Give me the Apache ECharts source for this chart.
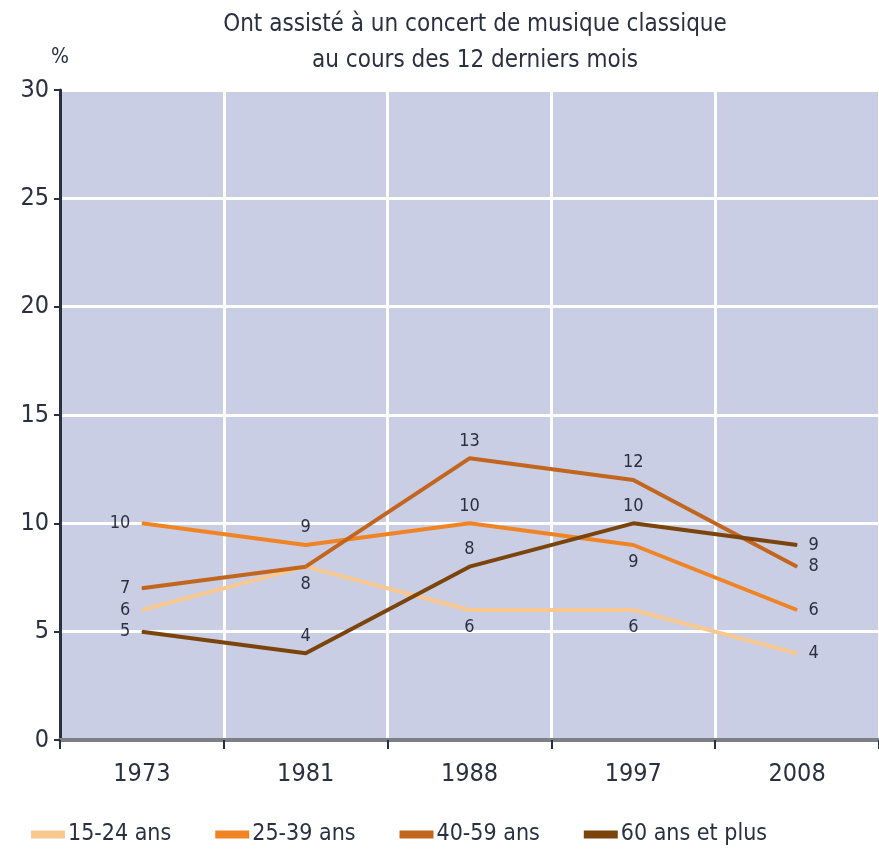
<!DOCTYPE html>
<html>
<head>
<meta charset="utf-8">
<script src="https://cdn.jsdelivr.net/npm/echarts@6/dist/echarts.min.js"></script>
<style>
  html, body { margin: 0; padding: 0; background: #fff; }
  #main { width: 879px; height: 854px; }
</style>
</head>
<body>
<div id="main"></div>
<script>
    // données
    const annees = ['1973', '1981', '1988', '1997', '2008'];
    const ans15_24 = [6, 8, 6, 6, 4];
    const ans25_39 = [10, 9, 10, 9, 6];
    const ans40_59 = [7, 8, 13, 12, 8];
    const ans60plus = [5, 4, 8, 10, 9];
    const yTicks = [0, 5, 10, 15, 20, 25, 30];

    // position des étiquettes pour chaque point (null = pas d'étiquette)
    const pos15_24 = ['left', null, 'bottom', 'bottom', 'right'];
    const pos25_39 = ['left', 'top', 'top', 'bottom', 'right'];
    const pos40_59 = ['left', 'bottom', 'top', 'top', 'right'];
    const pos60plus = ['left', 'top', 'top', 'top', 'right'];

    const police = '"DejaVu Sans Condensed", "DejaVu Sans", sans-serif';

    const makeData = (values, positions) => values.map((v, i) => ({
        value: v,
        label: positions[i]
            ? { show: true, position: positions[i], distance: positions[i] === 'left' || positions[i] === 'right' ? 11 : 8 }
            : { show: false }
    }));

    const makeSerie = (name, values, positions, color) => ({
        name: name,
        type: 'line',
        data: makeData(values, positions),
        symbol: 'circle',
        symbolSize: 1,
        lineStyle: { color: color, width: 4 },
        itemStyle: { color: color },
        label: {
            color: '#2b3040',
            fontFamily: police,
            fontSize: 18
        }
    });

    var myChart = echarts.init(document.getElementById('main'));
    let option = {
        animation: false,
        title: {
            text: 'Ont assisté à un concert de musique classique\nau cours des 12 derniers mois',
            left: 470,
            top: 2,
            textAlign: 'center',
            textStyle: {
                fontFamily: police,
                fontWeight: 'normal',
                fontSize: 24,
                lineHeight: 36,
                color: '#2b3040'
            }
        },
        legend: {
            bottom: 3,
            left: 26,
            itemWidth: 34,
            itemHeight: 8,
            itemGap: 44,
            icon: 'rect',
            textStyle: {
                fontFamily: police,
                fontSize: 23,
                color: '#2b3040',
                padding: [0, 0, 0, -2]
            },
            data: ['15-24 ans', '25-39 ans', '40-59 ans', '60 ans et plus']
        },
        grid: {
            left: 60,
            right: 0,
            top: 90,
            bottom: 114,
            show: true,
            backgroundColor: '#c9cee4',
            borderWidth: 0
        },
        xAxis: {
            type: 'category',
            boundaryGap: true,
            data: annees,
            axisLine: { lineStyle: { color: '#7d7f86', width: 4 } },
            axisTick: { show: true, length: 9, lineStyle: { color: '#2b3040', width: 2 } },
            axisLabel: {
                fontFamily: police,
                fontSize: 25,
                color: '#2b3040',
                margin: 22
            },
            splitLine: { show: true, lineStyle: { color: '#ffffff', width: 3 } }
        },
        yAxis: {
            type: 'value',
            min: 0,
            max: 30,
            interval: 5,
            name: '%',
            nameLocation: 'end',
            nameGap: 22,
            nameTextStyle: {
                fontFamily: police,
                fontSize: 21,
                color: '#2b3040',
                align: 'center'
            },
            axisLine: { show: true, lineStyle: { color: '#2b3040', width: 3 } },
            axisTick: { show: true, length: 6, lineStyle: { color: '#2b3040', width: 2 } },
            axisLabel: {
                fontFamily: police,
                fontSize: 25,
                color: '#2b3040',
                margin: 11,
                formatter: (v) => yTicks.includes(v) ? String(v) : ''
            },
            splitLine: { show: true, lineStyle: { color: '#ffffff', width: 3 } }
        },
        series: [
            makeSerie('15-24 ans', ans15_24, pos15_24, '#f8c890'),
            makeSerie('25-39 ans', ans25_39, pos25_39, '#f08424'),
            makeSerie('40-59 ans', ans40_59, pos40_59, '#c2651e'),
            makeSerie('60 ans et plus', ans60plus, pos60plus, '#7a440c')
        ]
    };
    myChart.setOption(option);
</script>
</body>
</html>
